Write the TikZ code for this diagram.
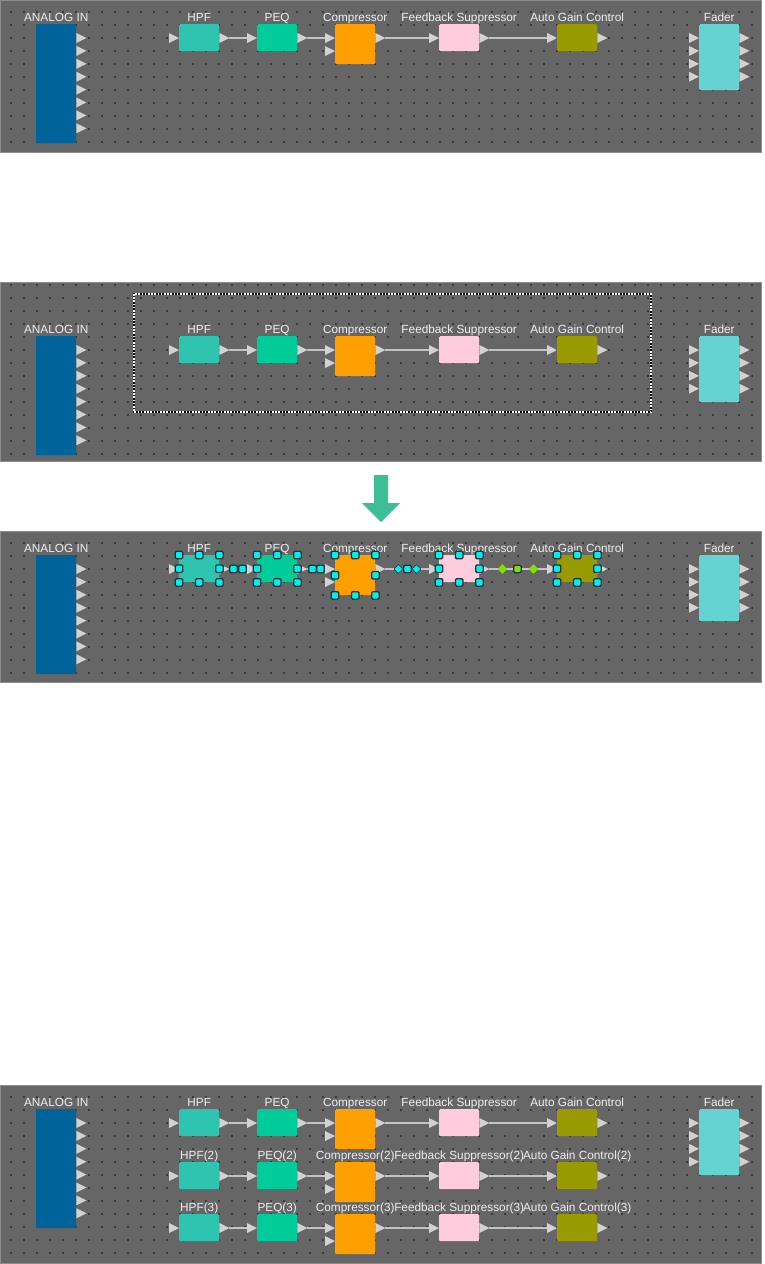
\documentclass[tikz,border=0pt]{standalone}
\usepackage{fontspec}
\setmainfont{Liberation Sans}
\usetikzlibrary{positioning,shapes.geometric}
\definecolor{panelbg}{HTML}{666666}
\definecolor{paneledge}{HTML}{8C8C8C}
\definecolor{griddot}{HTML}{3A3A3A}
\definecolor{analogblue}{HTML}{00649A}
\definecolor{hpfcol}{HTML}{2EC4B0}
\definecolor{peqcol}{HTML}{00CC99}
\definecolor{compcol}{HTML}{FFA000}
\definecolor{fbscol}{HTML}{FFCCDD}
\definecolor{agccol}{HTML}{999900}
\definecolor{fadercol}{HTML}{66D3D3}
\definecolor{portgray}{HTML}{D2D2D2}
\definecolor{wiregray}{HTML}{C4C4C4}
\definecolor{labeltext}{HTML}{EEEEEE}
\definecolor{arrowgreen}{HTML}{3DBF95}
\definecolor{handlecyan}{HTML}{00F0F0}
\definecolor{handlegreen}{HTML}{80E000}
\definecolor{handleedge}{HTML}{1E3434}
\newcommand{\lblfont}{\fontsize{11.8}{13}\selectfont}

% gray canvas with dot grid: #1 top, #2 bottom, #3 content offset
\newcommand{\drawpanel}[3]{%
  \fill[panelbg] (0,#1) rectangle (762,#2);
  \begin{scope}
    \clip (1,{#1+2}) rectangle (761,{#2-2});
    \foreach \gx in {11,24,...,752}
      \foreach \gj in {-3,...,14}
        \fill[griddot] ({\gx-0.9},{#3+12+13*\gj-0.9}) rectangle ++(1.8,1.8);
  \end{scope}
  \draw[paneledge, line width=0.8pt] (0.4,{#1+0.4}) rectangle (761.6,{#2-0.4});
}

% input and output blocks: #1 id, #2 y offset
\newcommand{\ioblocks}[2]{%
  \node[block, fill=analogblue, minimum height=119pt] (ain#1) at (36,{#2+24}) {};
  \node[block, fill=fadercol, minimum height=66pt] (fader#1) at (699,{#2+24}) {};
  \node[blklabel, above=2.5pt of ain#1.north, anchor=base] (ain#1-lbl) {ANALOG IN};
  \node[blklabel, above=2.5pt of fader#1.north, anchor=base] (fader#1-lbl) {Fader};
  \foreach \k in {0,...,7}
    \pic at ([yshift={-(14+12.9*\k)*1pt}]ain#1.north east) {outport};
  \foreach \k in {0,...,3}{
    \pic at ([yshift={-(14+12.9*\k)*1pt}]fader#1.north west) {inport};
    \pic at ([yshift={-(14+12.9*\k)*1pt}]fader#1.north east) {outport};
  }
}

% one processing chain: #1 id, #2 y offset, #3 label suffix
\newcommand{\procrow}[3]{%
  \node[block, fill=hpfcol] (hpf#1) at (179,{#2+24}) {};
  \node[block, fill=peqcol] (peq#1) at (257,{#2+24}) {};
  \node[block, fill=compcol, minimum height=40pt] (comp#1) at (335,{#2+24}) {};
  \node[block, fill=fbscol] (fbs#1) at (439,{#2+24}) {};
  \node[block, fill=agccol] (agc#1) at (557,{#2+24}) {};
  \node[blklabel, above=2.5pt of hpf#1.north, anchor=base] (hpf#1-lbl) {HPF#3};
  \node[blklabel, above=2.5pt of peq#1.north, anchor=base] (peq#1-lbl) {PEQ#3};
  \node[blklabel, above=2.5pt of comp#1.north, anchor=base] (comp#1-lbl) {Compressor#3};
  \node[blklabel, above=2.5pt of fbs#1.north, anchor=base] (fbs#1-lbl) {Feedback Suppressor#3};
  \node[blklabel, above=2.5pt of agc#1.north, anchor=base] (agc#1-lbl) {Auto Gain Control#3};
  \foreach \b in {hpf#1,peq#1,comp#1,fbs#1,agc#1}{
    \pic at ([yshift=-14pt]\b.north west) {inport};
    \pic at ([yshift=-14pt]\b.north east) {outport};
  }
  \pic at ([yshift=-27pt]comp#1.north west) {inport};
  \draw[wire] ([xshift=10pt,yshift=-14pt]hpf#1.north east) -- ([xshift=-10pt,yshift=-14pt]peq#1.north west);
  \draw[wire] ([xshift=10pt,yshift=-14pt]peq#1.north east) -- ([xshift=-10pt,yshift=-14pt]comp#1.north west);
  \draw[wire] ([xshift=10pt,yshift=-14pt]comp#1.north east) -- ([xshift=-10pt,yshift=-14pt]fbs#1.north west);
  \draw[wire] ([xshift=10pt,yshift=-14pt]fbs#1.north east) -- ([xshift=-10pt,yshift=-14pt]agc#1.north west);
}

\begin{document}
\begin{tikzpicture}[x=1pt, y=-1pt,
    block/.style={rounded corners=1pt, minimum width=40pt, minimum height=27pt, inner sep=0pt, anchor=north west},
    blklabel/.style={text=labeltext, font=\lblfont, inner sep=0pt},
    wire/.style={draw=wiregray, line width=1.8pt},
    handle/.style={draw=handleedge, fill=handlecyan, line width=1.3pt, minimum size=7.5pt, inner sep=0pt, rounded corners=1.2pt},
    hdiamond/.style={diamond, draw=handleedge, fill=handlecyan, line width=0.6pt, minimum size=9pt, inner sep=0pt},
    inport/.pic={\fill[portgray] (-10,-5) -- (0,0) -- (-10,5) -- cycle;},
    outport/.pic={\fill[portgray] (0,-5) -- (10,0) -- (0,5) -- cycle;}
  ]
  \fill[white] (0,0) rectangle (764,1264);
  \useasboundingbox (0,0) rectangle (764,1264);

  % before
  \drawpanel{0}{153}{0}
  \ioblocks{A}{0}
  \procrow{A}{0}{}

  % selecting the chain
  \drawpanel{282}{462}{312}
  \ioblocks{B}{312}
  \procrow{B}{312}{}
  \draw[black, line width=2.2pt] (134,294) rectangle (651,412);
  \draw[white, line width=2.2pt, dash pattern=on 1.6pt off 1.6pt] (134,294) rectangle (651,412);

  \fill[arrowgreen] (374,475) -- (388,475) -- (388,503) -- (400,503) -- (381,522)
    -- (362,503) -- (374,503) -- cycle;

  % selected
  \drawpanel{531}{683}{531}
  \ioblocks{C}{531}
  \procrow{C}{531}{}
  \foreach \b in {hpfC,peqC,compC,fbsC,agcC}
    \foreach \a [count=\i] in {north west,north,north east,west,east,south west,south,south east}
      \node[handle] (\b-h\i) at (\b.\a) {};
  \node[handle] (wireC1-h1) at ([xshift=14pt,yshift=-14pt]hpfC.north east) {};
  \node[handle] (wireC1-h2) at ([xshift=23pt,yshift=-14pt]hpfC.north east) {};
  \node[handle] (wireC2-h1) at ([xshift=15pt,yshift=-14pt]peqC.north east) {};
  \node[handle] (wireC2-h2) at ([xshift=23pt,yshift=-14pt]peqC.north east) {};
  \node[hdiamond] (wireC3-h1) at ([xshift=23pt,yshift=-14pt]compC.north east) {};
  \node[handle] (wireC3-h2) at ([xshift=32pt,yshift=-14pt]compC.north east) {};
  \node[hdiamond] (wireC3-h3) at ([xshift=41pt,yshift=-14pt]compC.north east) {};
  \node[hdiamond, fill=handlegreen, draw=handlegreen] (wireC4-h1) at ([xshift=23pt,yshift=-14pt]fbsC.north east) {};
  \node[handle, fill=handlegreen] (wireC4-h2) at ([xshift=38pt,yshift=-14pt]fbsC.north east) {};
  \node[hdiamond, fill=handlegreen, draw=handlegreen] (wireC4-h3) at ([xshift=54pt,yshift=-14pt]fbsC.north east) {};

  % after copying
  \drawpanel{1085}{1264}{1085}
  \ioblocks{D}{1085}
  \procrow{D}{1085}{}
  \procrow{E}{1138}{(2)}
  \procrow{F}{1190}{(3)}
\end{tikzpicture}
\end{document}
